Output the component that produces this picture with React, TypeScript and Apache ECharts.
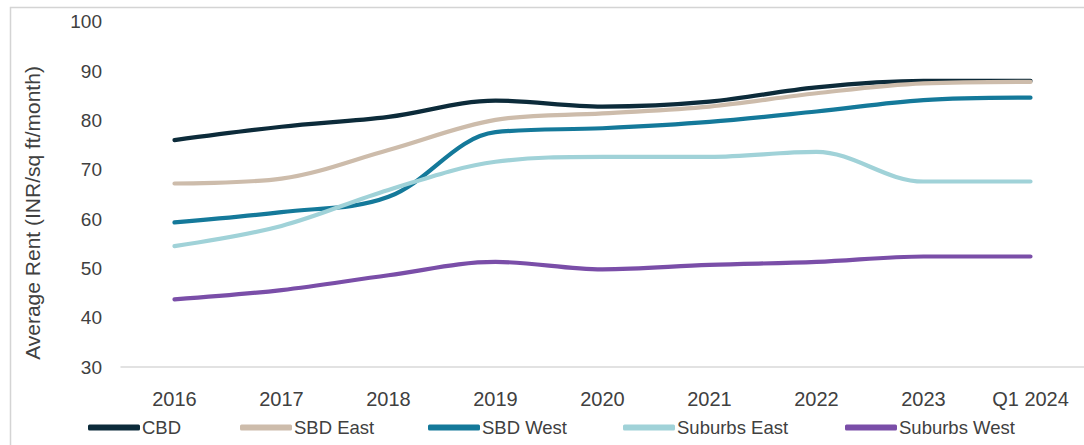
import React, { useEffect, useRef } from "react";
import * as echarts from "echarts";

const categories = ["2016", "2017", "2018", "2019", "2020", "2021", "2022", "2023", "Q1 2024"];
const cbd = [76.0, 78.7, 80.7, 84.0, 82.8, 83.8, 86.7, 88.0, 88.0];
const sbdEast = [67.2, 68.2, 74.0, 80.1, 81.4, 82.8, 85.5, 87.5, 87.8];
const sbdWest = [59.3, 61.4, 64.5, 77.6, 78.4, 79.7, 81.8, 84.1, 84.6];
const suburbsEast = [54.5, 58.6, 65.9, 71.6, 72.6, 72.6, 73.6, 67.6, 67.6];
const suburbsWest = [43.7, 45.6, 48.6, 51.3, 49.8, 50.7, 51.3, 52.4, 52.4];
const seriesNames = ["CBD", "SBD East", "SBD West", "Suburbs East", "Suburbs West"];
const seriesColors = ["#0c2b3a", "#cdbcab", "#14799a", "#a0d2d8", "#7a4ea8"];
const yTitle = "Average Rent (INR/sq ft/month)";

const FONT = "'Liberation Sans', Arial, sans-serif";

export default function App() {
  const ref = useRef<HTMLDivElement>(null);
  useEffect(() => {
    document.body.style.margin = "0";
    const chart = echarts.init(ref.current!, undefined, { renderer: "svg" });
    const values = [cbd, sbdEast, sbdWest, suburbsEast, suburbsWest];
    const legendLefts = [88, 240, 428, 623, 845];
    chart.setOption({
      animation: false,
      backgroundColor: "#ffffff",
      grid: { left: 121, top: 21.7, width: 967, height: 345.3, containLabel: false },
      xAxis: {
        type: "category",
        data: categories,
        boundaryGap: true,
        axisLine: { show: true, lineStyle: { color: "#d9d9d9", width: 1.5 } },
        axisTick: { show: false },
        axisLabel: { interval: 0, color: "#404040", fontSize: 20, fontFamily: FONT, margin: 22 },
      },
      yAxis: {
        type: "value",
        min: 30,
        max: 100,
        interval: 10,
        splitLine: { show: false },
        axisLine: { show: false },
        axisTick: { show: false },
        axisLabel: { color: "#404040", fontSize: 19, fontFamily: FONT, margin: 19 },
      },
      legend: seriesNames.map((n, i) => ({
        data: [n],
        left: legendLefts[i],
        top: 418,
        icon: "roundRect",
        itemWidth: 52,
        itemHeight: 6,
        itemGap: 0,
        padding: 0,
        textStyle: { color: "#404040", fontSize: 18.5, fontFamily: FONT, padding: [0, 0, 0, -3] },
      })),
      graphic: [
        {
          type: "rect",
          shape: { x: 10.5, y: 7.5, width: 1200, height: 600 },
          style: { fill: "none", stroke: "#d4d4d4", lineWidth: 1.5 },
          silent: true,
        },
        {
          type: "text",
          x: 32,
          y: 213,
          rotation: Math.PI / 2,
          style: {
            text: yTitle,
            fill: "#404040",
            fontSize: 21,
            fontFamily: FONT,
            textAlign: "center",
            textVerticalAlign: "middle",
          },
        },
      ],
      series: seriesNames.map((n, i) => ({
        name: n,
        type: "line",
        data: values[i],
        smooth: 0.35,
        showSymbol: false,
        symbol: "none",
        lineStyle: { color: seriesColors[i], width: 4.2, cap: "round" },
        itemStyle: { color: seriesColors[i] },
      })),
    });
    return () => chart.dispose();
  }, []);
  return <div ref={ref} style={{ width: 1084, height: 445 }} />;
}
